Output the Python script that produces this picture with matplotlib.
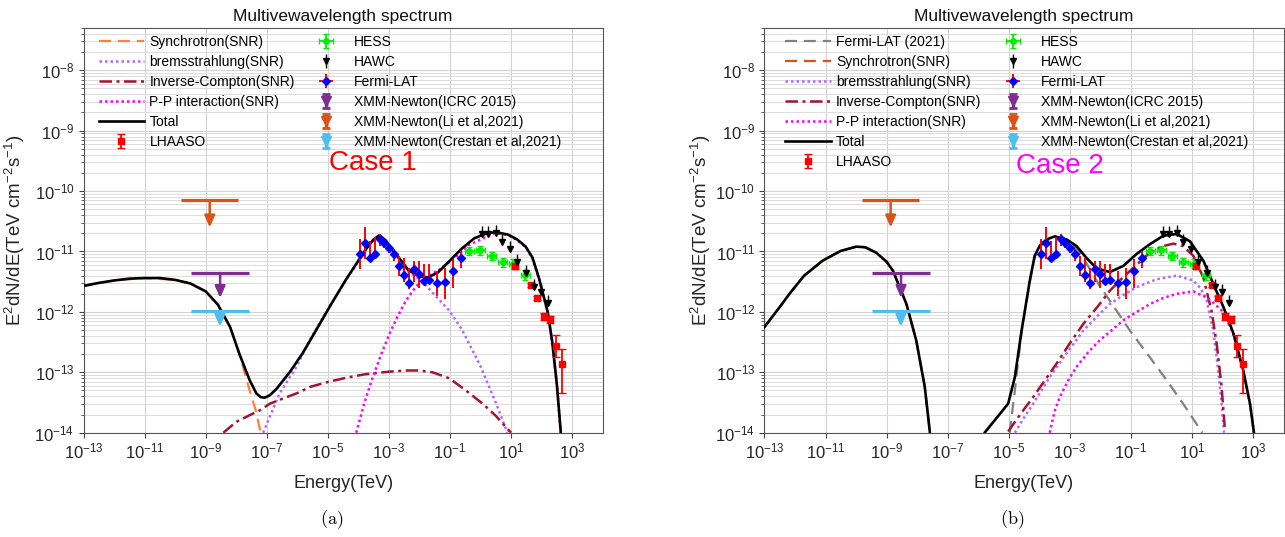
import numpy as np
import matplotlib
matplotlib.use('Agg')
import matplotlib.pyplot as plt
from matplotlib.ticker import FixedLocator, LogLocator, NullLocator, NullFormatter, FuncFormatter
from matplotlib.lines import Line2D
from matplotlib.collections import LineCollection
from matplotlib.container import ErrorbarContainer

plt.rcParams['font.family'] = ['Liberation Sans', 'DejaVu Sans']
plt.rcParams['mathtext.fontset'] = 'custom'
plt.rcParams['mathtext.rm'] = 'Liberation Sans'
plt.rcParams['mathtext.it'] = 'Liberation Sans:italic'

# ---- model curves: log10(E / TeV), log10(E^2 dN/dE)
# case 1
tot1_logE = [-13.0, -12.5, -12.0, -11.5, -11.0, -10.5, -10.0, -9.5, -9.0, -8.6,
             -8.2, -7.9, -7.56, -7.34, -7.2, -7.07, -6.9, -6.69, -6.25, -5.82,
             -5.38, -4.9, -4.4, -3.75, -3.5, -3.31, -3.1, -2.89, -2.6, -2.36,
             -2.0, -1.73, -1.4, -1.1, -0.61, -0.2, 0.2, 0.5, 0.9, 1.2,
             1.48, 1.7, 1.92, 2.2, 2.35, 2.5, 2.63]
tot1_logF = [-11.57, -11.52, -11.48, -11.45, -11.44, -11.44, -11.47, -11.53, -11.66, -11.88,
             -12.25, -12.69, -13.13, -13.35, -13.41, -13.42, -13.38, -13.28, -13.0, -12.68,
             -12.30, -11.88, -11.46, -10.96, -10.80, -10.73, -10.82, -10.97, -11.15, -11.31,
             -11.41, -11.43, -11.35, -11.20, -10.95, -10.78, -10.70, -10.68, -10.72, -10.80,
             -10.92, -11.10, -11.45, -12.0, -12.5, -13.2, -14.0]
syn1_logE = [-13.0, -12.0, -11.0, -10.0, -9.5, -9.0, -8.6, -8.2, -7.9, -7.56, -7.36, -7.23, -7.15]
syn1_logF = [-11.57, -11.48, -11.44, -11.47, -11.53, -11.66, -11.88, -12.25, -12.69, -13.3, -13.63, -13.93, -14.1]
brem1_logE = [-7.12, -6.58, -6.03, -5.6, -5.04, -4.4, -3.75, -3.5, -3.31, -3.1, -2.89, -2.6,
              -2.36, -1.9, -1.5, -1.02, -0.6, -0.26, 0.0, 0.28, 0.5, 0.72, 0.88]
brem1_logF = [-14.0, -13.35, -12.91, -12.47, -11.99, -11.47, -10.97, -10.81, -10.74, -10.83, -10.98, -11.17,
              -11.33, -11.5, -11.72, -11.98, -12.3, -12.64, -12.9, -13.24, -13.5, -13.79, -14.0]
pp1_logE = [-4.07, -3.8, -3.53, -3.25, -2.98, -2.71, -2.44, -2.17, -1.9, -1.35, -0.8, -0.4,
            0.0, 0.5, 0.9, 1.2, 1.48, 1.7, 1.92, 2.2, 2.35, 2.5, 2.63]
pp1_logF = [-14.0, -13.5, -13.08, -12.7, -12.36, -12.07, -11.81, -11.62, -11.46, -11.3, -11.09, -10.9,
            -10.8, -10.69, -10.73, -10.81, -10.93, -11.11, -11.46, -12.01, -12.51, -13.21, -14.01]
ic1_logE = [-8.42, -8.0, -7.6, -7.23, -6.9, -6.5, -6.03, -5.57, -5.0, -4.4, -3.75, -3.0,
            -2.4, -2.0, -1.57, -1.02, -0.48, 0.07, 0.5, 0.75, 1.0]
ic1_logF = [-14.0, -13.82, -13.72, -13.63, -13.52, -13.44, -13.35, -13.24, -13.16, -13.09, -13.03, -12.99,
            -12.97, -12.97, -13.0, -13.1, -13.3, -13.52, -13.72, -13.86, -14.0]

# case 2
tot2_logE = [-13.0, -12.5, -12.18, -11.7, -11.09, -10.5, -9.99, -9.7, -9.34, -9.0,
             -8.79, -8.35, -8.03, -7.75, -7.59, -7.0, -6.2, -5.79, -5.02, -4.8,
             -4.58, -4.31, -4.15, -3.98, -3.76, -3.49, -3.11, -2.78, -2.45, -2.12,
             -1.69, -1.25, -0.81, -0.38, 0.06, 0.5, 0.93, 1.37, 1.7, 2.03,
             2.36, 2.68, 2.9, 3.03]
tot2_logF = [-12.25, -11.92, -11.70, -11.40, -11.15, -10.99, -10.92, -10.93, -11.02, -11.17,
             -11.32, -11.87, -12.47, -13.24, -13.96, -18.0, -18.0, -14.0, -13.52, -13.08,
             -12.31, -11.48, -11.07, -10.90, -10.80, -10.75, -10.80, -10.91, -11.11, -11.28,
             -11.34, -11.24, -11.04, -10.88, -10.74, -10.71, -10.83, -11.15, -11.54, -11.92,
             -12.36, -12.97, -13.52, -14.0]
syn2_logE = [-13.0, -12.5, -12.18, -11.7, -11.09, -10.5, -9.99, -9.7, -9.34, -9.0,
             -8.79, -8.35, -8.03, -7.75, -7.59]
syn2_logF = [-12.25, -11.92, -11.70, -11.40, -11.15, -10.99, -10.92, -10.93, -11.02, -11.17,
             -11.32, -11.87, -12.47, -13.24, -13.96]
fl21_logE = [-4.97, -4.8, -4.58, -4.31, -4.15, -3.98, -3.76, -3.49, -3.11, -2.78,
             -2.45, -2.02, -1.47, -1.03, -0.38, 0.17, 0.71, 1.21, 1.34]
fl21_logF = [-14.0, -13.3, -12.33, -11.5, -11.09, -10.92, -10.82, -10.77, -10.83, -10.95,
             -11.2, -11.57, -11.98, -12.31, -12.75, -13.13, -13.52, -13.90, -14.0]
ic2_logE = [-5.02, -4.6, -4.2, -3.8, -3.44, -3.0, -2.56, -2.1, -1.69, -1.3, -0.92,
            -0.38, 0.06, 0.39, 0.71, 1.04, 1.37, 1.64, 1.81, 1.97, 2.08]
ic2_logF = [-13.98, -13.68, -13.41, -13.12, -12.86, -12.52, -12.20, -11.92, -11.65, -11.45, -11.27,
            -11.02, -10.91, -10.87, -10.91, -11.07, -11.43, -11.98, -12.53, -13.24, -13.96]
brem2_logE = [-4.8, -4.5, -4.2, -3.66, -3.1, -2.56, -2.1, -1.69, -1.25, -0.81,
              -0.16, 0.5, 1.04, 1.3, 1.48, 1.7, 1.86, 1.97, 2.05]
brem2_logF = [-14.0, -13.75, -13.52, -13.08, -12.68, -12.31, -12.07, -11.87, -11.72, -11.59,
              -11.46, -11.40, -11.48, -11.62, -11.81, -12.31, -12.97, -13.52, -14.0]
pp2_logE = [-3.66, -3.5, -3.33, -3.05, -2.78, -2.4, -2.02, -1.6, -1.25, -0.81, -0.38,
            0.06, 0.5, 1.04, 1.48, 1.7, 1.92, 2.03, 2.36, 2.68, 2.9, 3.03]
pp2_logF = [-14.0, -13.65, -13.41, -13.13, -12.91, -12.67, -12.47, -12.29, -12.14, -12.0, -11.87,
            -11.77, -11.70, -11.66, -11.76, -11.85, -11.95, -12.0, -12.38, -12.97, -13.52, -14.0]

# ---- measurements (TeV, TeV cm^-2 s^-1)
fermi_E = [1.17e-4, 1.66e-4, 2.48e-4, 3.62e-4, 5.27e-4, 7.13e-4, 1.04e-3, 1.51e-3, 2.2e-3, 3.2e-3,
           4.7e-3, 6.8e-3, 9.9e-3, 1.45e-2, 2.1e-2, 3.9e-2, 7.0e-2, 0.122, 0.229]
fermi_F = [9.0e-12, 1.37e-11, 7.9e-12, 9.2e-12, 1.63e-11, 1.40e-11, 1.16e-11, 9.0e-12, 5.8e-12, 4.1e-12,
           3.0e-12, 5.1e-12, 4.2e-12, 3.3e-12, 3.4e-12, 3.0e-12, 3.1e-12, 4.7e-12, 7.7e-12]
fermi_lo = [5.1e-12, 7.5e-12, 7.0e-12, 7.5e-12, 1.24e-11, 1.16e-11, 9.6e-12, 7.0e-12, 4.0e-12, 3.1e-12,
            2.4e-12, 3.1e-12, 2.5e-12, 2.9e-12, 2.9e-12, 1.85e-12, 1.64e-12, 2.5e-12, 5.4e-12]
fermi_hi = [1.63e-11, 2.54e-11, 1.5e-11, 1.74e-11, 1.93e-11, 1.6e-11, 1.32e-11, 1.09e-11, 8.4e-12, 7.9e-12,
            5.4e-12, 7.0e-12, 7.0e-12, 6.2e-12, 6.3e-12, 4.8e-12, 5.4e-12, 7.5e-12, 1.02e-11]

hess_E = [0.428, 0.977, 2.29, 5.25, 11.7, 28.8]
hess_Elo = [0.31, 0.70, 1.64, 3.75, 8.4, 20.6]
hess_Ehi = [0.60, 1.37, 3.2, 7.35, 16.4, 40.3]
hess_F = [1.02e-11, 1.04e-11, 8.45e-12, 6.6e-12, 6.3e-12, 4.1e-12]
hess_lo = [8.6e-12, 8.9e-12, 7.2e-12, 5.6e-12, 5.3e-12, 3.4e-12]
hess_hi = [1.2e-11, 1.22e-11, 9.9e-12, 7.8e-12, 7.5e-12, 4.9e-12]

hawc_E = [1.11, 1.82, 3.16, 5.0, 9.1, 16.2, 30.2, 56.9, 97.7, 158.0]
hawc_F = [1.93e-11, 1.93e-11, 2.0e-11, 1.46e-11, 1.12e-11, 6.7e-12, 4.4e-12, 2.6e-12, 2.16e-12, 1.39e-12]

lhaaso_E = [13.6, 44.3, 73.0, 120.0, 185.0, 290.0, 480.0]
lhaaso_F = [5.8e-12, 2.8e-12, 1.7e-12, 8.4e-13, 7.6e-13, 2.7e-13, 1.36e-13]
lhaaso_lo = [5.2e-12, 2.6e-12, 1.55e-12, 7.4e-13, 6.6e-13, 1.79e-13, 4.6e-14]
lhaaso_hi = [6.4e-12, 3.0e-12, 1.85e-12, 9.6e-13, 8.7e-13, 4.1e-13, 2.45e-13]

# XMM-Newton upper limits: ICRC 2015, Li et al 2021, Crestan et al 2021
xmm_labels = ['XMM-Newton(ICRC 2015)', 'XMM-Newton(Li et al,2021)', 'XMM-Newton(Crestan et al,2021)']
xmm_Elo = [3.4e-10, 1.6e-10, 3.3e-10]
xmm_Ehi = [2.6e-8, 1.15e-8, 2.6e-8]
xmm_F = [4.4e-12, 7.0e-11, 1.02e-12]
xmm_tip = [1.7e-12, 2.5e-11, 5.7e-13]
xmm_colors = ['#7E2F8E', '#D95319', '#4DBEEE']


def curve(ax, logE, logF, **kw):
    line, = ax.plot(10.0 ** np.array(logE), 10.0 ** np.array(logF), **kw)
    return line


def style_axes(ax, ylab_x):
    ax.set_xscale('log')
    ax.set_yscale('log')
    ax.set_xlim(1e-13, 1e4)
    ax.set_ylim(1e-14, 5e-8)
    ax.xaxis.set_major_locator(FixedLocator(10.0 ** np.arange(-13, 4, 2)))
    ax.xaxis.set_minor_locator(NullLocator())
    ax.yaxis.set_major_locator(FixedLocator(10.0 ** np.arange(-14, -7)))
    ax.yaxis.set_minor_locator(LogLocator(base=10, subs=np.arange(2, 10), numticks=60))
    fmt = FuncFormatter(lambda v, p: r'$\mathregular{10^{%d}}$' % round(np.log10(v)))
    ax.xaxis.set_major_formatter(fmt)
    ax.yaxis.set_major_formatter(fmt)
    ax.yaxis.set_minor_formatter(NullFormatter())
    ax.grid(True, which='major', color='#d2d2d2', lw=0.8)
    ax.grid(True, which='minor', axis='y', color='#dcdcdc', lw=0.7)
    ax.set_axisbelow(True)
    ax.tick_params(which='major', direction='out', length=3.5, width=0.8, color='#444444',
                   labelsize=12, labelcolor='#262626', pad=3)
    ax.tick_params(which='minor', direction='out', length=2, width=0.6, color='#444444')
    for s in ax.spines.values():
        s.set_color('#555555')
        s.set_linewidth(0.8)
    ax.set_title('Multivewavelength spectrum', fontsize=12.5, color='#111111', pad=5)
    ax.set_xlabel('Energy(TeV)', fontsize=13, color='#262626')
    ax.set_ylabel(r'E$^2$dN/dE(TeV cm$^{-2}$s$^{-1}$)', fontsize=13.5, color='#262626')
    ax.xaxis.set_label_coords(0.5, -0.105)
    ax.yaxis.set_label_coords(ylab_x, 0.5)


def draw_data(ax):
    hess = ax.errorbar(hess_E, hess_F,
                       xerr=[np.subtract(hess_E, hess_Elo), np.subtract(hess_Ehi, hess_E)],
                       yerr=[np.subtract(hess_F, hess_lo), np.subtract(hess_hi, hess_F)],
                       fmt='o', color='#00ee00', ms=4, elinewidth=1.3, capsize=2.5, zorder=6)
    hawc_F_arr = np.array(hawc_F)
    hawc = ax.errorbar(hawc_E, hawc_F, yerr=[np.zeros(len(hawc_F)), 0.35 * hawc_F_arr],
                       fmt='v', color='black', ms=5, elinewidth=1.0, capsize=0, zorder=7)
    fermi = ax.errorbar(fermi_E, fermi_F, xerr=np.zeros(len(fermi_E)),
                        yerr=[np.subtract(fermi_F, fermi_lo), np.subtract(fermi_hi, fermi_F)],
                        fmt='D', color='#0000ff', ecolor='#ff0000', ms=4.2, elinewidth=1.4,
                        capsize=0, zorder=6)
    lhaaso = ax.errorbar(lhaaso_E, lhaaso_F,
                         yerr=[np.subtract(lhaaso_F, lhaaso_lo), np.subtract(lhaaso_hi, lhaaso_F)],
                         fmt='s', color='#ff0000', ms=4.8, elinewidth=1.3, capsize=3, zorder=6)
    xmm_handles = []
    for lo, hi, f, tip, c in zip(xmm_Elo, xmm_Ehi, xmm_F, xmm_tip, xmm_colors):
        xc = np.sqrt(lo * hi)
        ax.plot([lo, hi], [f, f], color=c, lw=2.3, solid_capstyle='butt', zorder=5)
        ax.annotate('', xy=(xc, tip), xytext=(xc, f),
                    arrowprops=dict(arrowstyle='-|>,head_length=0.5,head_width=0.22',
                                    color=c, lw=1.8, shrinkA=0, shrinkB=0, mutation_scale=14),
                    zorder=5)
        mk = Line2D([], [], marker='v', color=c, ls='none', ms=7)
        cap = Line2D([], [], marker='_', color=c, ls='none', ms=6, mew=2)
        bar = LineCollection([], colors=c, linewidths=2.5)
        xmm_handles.append(ErrorbarContainer((mk, (cap, cap), (bar,)), has_xerr=False, has_yerr=True))
    return hess, hawc, fermi, lhaaso, xmm_handles


def add_legend(ax, handles, labels, x):
    ax.legend(handles, labels, ncol=2, loc='upper left', bbox_to_anchor=(x, 0.984),
              frameon=False, fontsize=10, handlelength=3.3, handletextpad=0.36,
              columnspacing=0.6, labelspacing=0.44, borderpad=0, borderaxespad=0)


fig = plt.figure(figsize=(12.85, 5.37), dpi=100)
ax1 = fig.add_axes([0.065, 0.1942, 0.404, 0.7536])
ax2 = fig.add_axes([0.5949, 0.1942, 0.404, 0.7536])

dash = (0, (5.4, 3.1))
dot = (0, (1.0, 1.2))
dashdot = (0, (5.0, 1.8, 1.2, 1.8))

# ---- panel (a)
style_axes(ax1, -0.108)
h_syn = curve(ax1, syn1_logE, syn1_logF, color='#ff7f40', lw=1.6, ls=dash)
h_brem = curve(ax1, brem1_logE, brem1_logF, color='#b366ff', lw=1.8, ls=dot)
h_ic = curve(ax1, ic1_logE, ic1_logF, color='#a2142f', lw=1.8, ls=dashdot)
h_pp = curve(ax1, pp1_logE, pp1_logF, color='#ff00ff', lw=1.8, ls=dot)
h_tot = curve(ax1, tot1_logE, tot1_logF, color='black', lw=1.9, zorder=4)
hess, hawc, fermi, lhaaso, xmm_h = draw_data(ax1)
add_legend(ax1, [h_syn, h_brem, h_ic, h_pp, h_tot, lhaaso, hess, hawc, fermi] + xmm_h,
           ['Synchrotron(SNR)', 'bremsstrahlung(SNR)', 'Inverse-Compton(SNR)',
            'P-P interaction(SNR)', 'Total', 'LHAASO', 'HESS', 'HAWC', 'Fermi-LAT'] + xmm_labels,
           0.029)
ax1.text(0.557, 0.666, 'Case 1', transform=ax1.transAxes, ha='center', va='center',
         fontsize=20, color='#ff0000')

# ---- panel (b)
style_axes(ax2, -0.100)
g_fl = curve(ax2, fl21_logE, fl21_logF, color='#808080', lw=1.6, ls=dash)
g_syn = curve(ax2, syn2_logE, syn2_logF, color='#d95319', lw=1.6, ls=dash)
g_brem = curve(ax2, brem2_logE, brem2_logF, color='#b366ff', lw=1.8, ls=dot)
g_ic = curve(ax2, ic2_logE, ic2_logF, color='#a2142f', lw=1.8, ls=dashdot)
g_pp = curve(ax2, pp2_logE, pp2_logF, color='#ff00ff', lw=1.8, ls=dot)
g_tot = curve(ax2, tot2_logE, tot2_logF, color='black', lw=1.9, zorder=4)
hess2, hawc2, fermi2, lhaaso2, xmm_h2 = draw_data(ax2)
add_legend(ax2, [g_fl, g_syn, g_brem, g_ic, g_pp, g_tot, lhaaso2, hess2, hawc2, fermi2] + xmm_h2,
           ['Fermi-LAT (2021)', 'Synchrotron(SNR)', 'bremsstrahlung(SNR)', 'Inverse-Compton(SNR)',
            'P-P interaction(SNR)', 'Total', 'LHAASO', 'HESS', 'HAWC', 'Fermi-LAT'] + xmm_labels,
           0.040)
ax2.text(0.57, 0.66, 'Case 2', transform=ax2.transAxes, ha='center', va='center',
         fontsize=20, color='#ff00ff')

fig.text(0.2577, 0.0317, r'$\mathrm{(a)}$', math_fontfamily='cm', ha='center', va='center', fontsize=13)
fig.text(0.7876, 0.0317, r'$\mathrm{(b)}$', math_fontfamily='cm', ha='center', va='center', fontsize=13)

fig.savefig('out.png', dpi=100)
